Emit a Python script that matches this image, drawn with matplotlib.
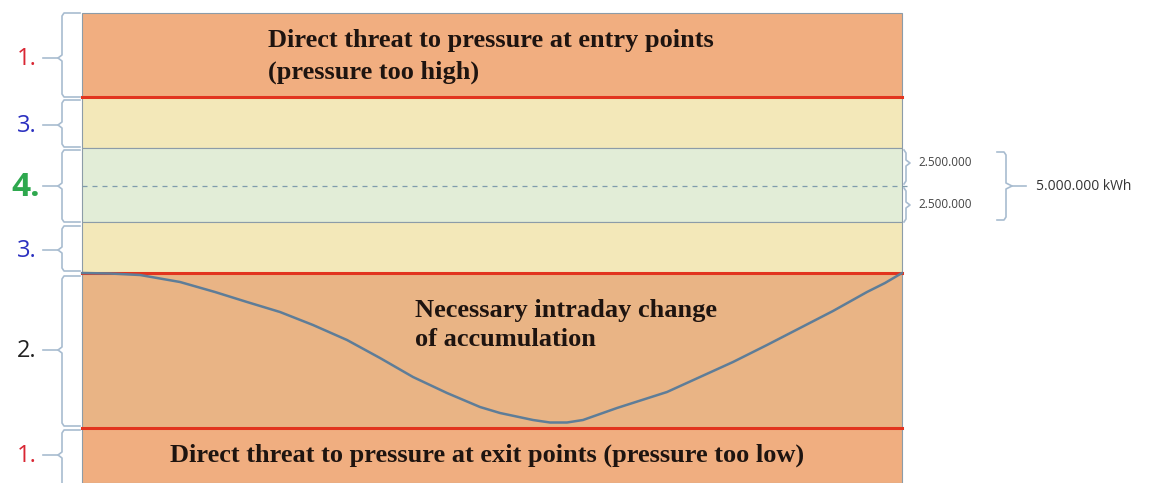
import matplotlib.pyplot as plt
from matplotlib.patches import Rectangle

# canvas in pixel units (y grows downward)
W, H = 1167, 483
box_left, box_right = 82, 902

# bands: (top, bottom, colour)
band_top = [13, 97, 148, 222, 273, 428]
band_bottom = [97, 148, 222, 273, 428, 483]
band_colors = ['#F1AE80', '#F3E8B9', '#E2EDD7', '#F3E8B9', '#E9B485', '#F0AE80']

red_lines = [97, 273, 428]
dashed_mid = 186

# intraday accumulation curve
curve_x = [82, 110, 140, 180, 215, 247, 280, 313, 347, 380, 413, 447, 480, 500,
           533, 550, 567, 583, 617, 667, 700, 733, 767, 800, 833, 867, 885, 902]
curve_y = [273, 273.5, 275, 282, 292, 302, 312, 325, 340, 358, 377, 393, 407, 413,
           420, 422.5, 422.5, 420, 408, 392, 377, 362, 345, 328, 311, 292, 283, 273]

# left braces
brace_top = [13, 100, 150, 226, 276, 430]
brace_bot = [97, 147, 222, 271, 426, 490]
brace_mid = [58, 125, 186, 250, 350, 455]
brace_labels = ['1.', '3.', '4.', '3.', '2.', '1.']
brace_colors = ['#D92633', '#2B30C0', '#2EA84E', '#2B30C0', '#222222', '#D92633']
brace_sizes = [17, 17, 24, 17, 17, 17]

fig = plt.figure(figsize=(11.67, 4.83), dpi=100)
ax = fig.add_axes([0, 0, 1, 1])
ax.set_xlim(0, W)
ax.set_ylim(H, 0)
ax.axis('off')

for t, b, c in zip(band_top, band_bottom, band_colors):
    ax.add_patch(Rectangle((box_left, t), box_right - box_left, b - t,
                           facecolor=c, edgecolor='#8C9CA8', linewidth=0.8))

for y in red_lines:
    ax.plot([box_left, box_right], [y, y], color='#E2341E', linewidth=2.2)
ax.plot([box_left, box_right + 5], [dashed_mid, dashed_mid], color='#7F9CAC',
        linestyle=(0, (4, 4)), linewidth=0.9)

ax.plot(curve_x, curve_y, color='#5E7D98', linewidth=1.8, solid_capstyle='round',
        solid_joinstyle='round')

brace_c = '#A8BCD0'
for t, b, m, lab, col, fs in zip(brace_top, brace_bot, brace_mid,
                                 brace_labels, brace_colors, brace_sizes):
    ax.plot([80, 64, 62, 62, 58, 62, 62, 64, 80],
            [t, t, t + 3, m - 3, m, m + 3, b - 3, b, b],
            color=brace_c, linewidth=1.2)
    ax.plot([43, 58], [m, m], color=brace_c, linewidth=1.2)
    ax.text(40 if fs > 17 else 37, m + 1, lab, color=col, fontsize=fs,
            fontfamily='Open Sans', fontweight='bold' if fs > 17 else 'normal',
            ha='right', va='center')

# right braces
for t, b, m in [(150, 184, 163), (188, 222, 205)]:
    ax.plot([904, 906, 906, 910, 906, 906, 904],
            [t, t + 3, m - 3, m, m + 3, b - 3, b], color=brace_c, linewidth=1.2)
    ax.text(918, m, '2.500.000', fontsize=8.5, fontfamily='Open Sans',
            color='#444444', va='center')
ax.plot([997, 1004, 1006, 1006, 1012, 1006, 1006, 1004, 997],
        [152, 152, 155, 183, 186, 189, 217, 220, 220], color=brace_c, linewidth=1.2)
ax.plot([1012, 1026], [186, 186], color=brace_c, linewidth=1.2)
ax.text(1036, 186, '5.000.000 kWh', fontsize=10, fontfamily='Open Sans',
        color='#333333', va='center')

serif = dict(fontfamily='Liberation Serif', fontweight='bold', fontsize=19,
             color='#1E1410', va='center')
ax.text(268, 40, 'Direct threat to pressure at entry points', **serif)
ax.text(268, 72, '(pressure too high)', **serif)
ax.text(415, 311, 'Necessary intraday change', **serif)
ax.text(415, 340, 'of accumulation', **serif)
ax.text(170, 455, 'Direct threat to pressure at exit points (pressure too low)', **serif)

fig.savefig('out.png', dpi=100)
